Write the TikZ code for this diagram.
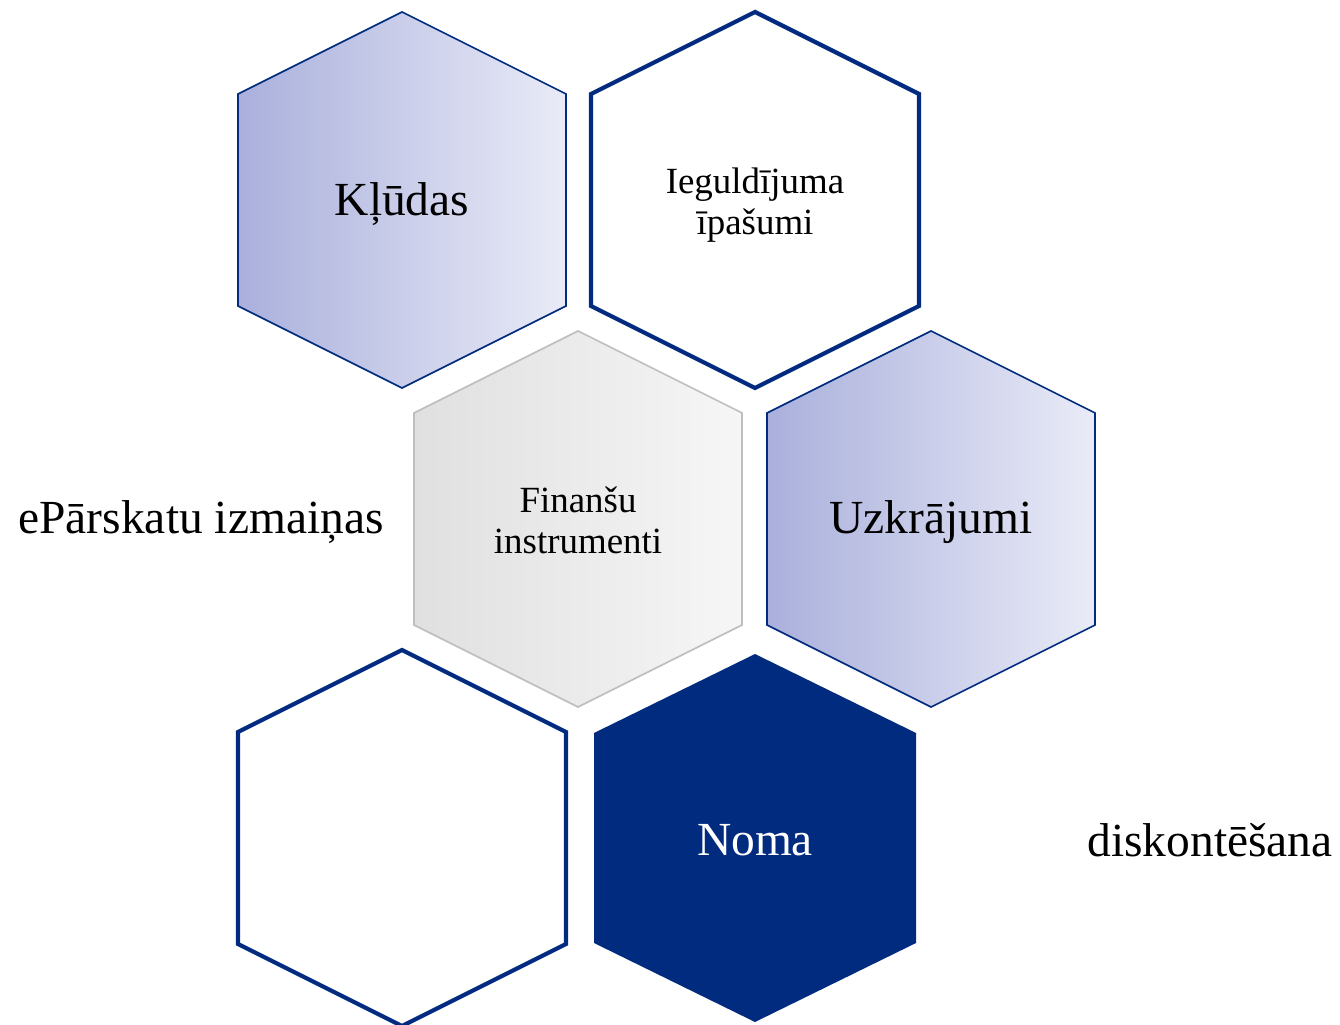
\documentclass[tikz,border=0pt]{standalone}
\usepackage{fontspec}
\setmainfont{Liberation Serif}

\definecolor{navy}{RGB}{0,43,127}
\definecolor{lilacL}{RGB}{170,176,220}
\definecolor{lilacR}{RGB}{233,235,247}
\definecolor{greyL}{RGB}{224,224,224}
\definecolor{greyR}{RGB}{246,246,246}
\definecolor{greyLine}{RGB}{190,190,190}

\tikzset{
    lilac/.style={draw=navy, line width=0.45pt, left color=lilacL, right color=lilacR},
    outline/.style={draw=navy, line width=1.2pt, fill=white},
    greycell/.style={draw=greyLine, line width=0.45pt, left color=greyL, right color=greyR},
    solid cell/.style={fill=navy},
    big/.style={font=\fontsize{13.5}{16}\selectfont},
    small/.style={font=\fontsize{10.5}{11.7}\selectfont, align=center}
}

\begin{document}
\begin{tikzpicture}[x=0.01cm, y=-0.01cm]
    \useasboundingbox (0,0) rectangle (1340,1025);

    % Top row
    \draw[lilac, shift={(402,200)}] (0,-188) -- (164,-106) -- (164,106) -- (0,188) -- (-164,106) -- (-164,-106) -- cycle;
    \node[big] (kludas) at (402,204) {Kļūdas};

    \draw[outline, shift={(755,200)}] (0,-188) -- (164,-106) -- (164,106) -- (0,188) -- (-164,106) -- (-164,-106) -- cycle;
    \node[small] (ipasumi) at (755,205) {Ieguldījuma\\īpašumi};

    % Middle row
    \draw[greycell, shift={(578,519)}] (0,-188) -- (164,-106) -- (164,106) -- (0,188) -- (-164,106) -- (-164,-106) -- cycle;
    \node[small] (finansu) at (578,520) {Finanšu\\instrumenti};

    \draw[lilac, shift={(931,519)}] (0,-188) -- (164,-106) -- (164,106) -- (0,188) -- (-164,106) -- (-164,-106) -- cycle;
    \node[big] (uzkrajumi) at (931,522) {Uzkrājumi};

    \node[big] (eparskatu) at (201,522) {ePārskatu izmaiņas};

    % Bottom row
    \draw[outline, shift={(402,838)}] (0,-188) -- (164,-106) -- (164,106) -- (0,188) -- (-164,106) -- (-164,-106) -- cycle;
    \coordinate (tuksa) at (402,838);

    \fill[solid cell, shift={(755,838)}] (0,-184) -- (161,-105) -- (161,105) -- (0,184) -- (-161,105) -- (-161,-105) -- cycle;
    \node[big, text=white] (noma) at (755,840) {Noma};

    \node[big] (diskontesana) at (1210,840) {diskontēšana};
\end{tikzpicture}
\end{document}
